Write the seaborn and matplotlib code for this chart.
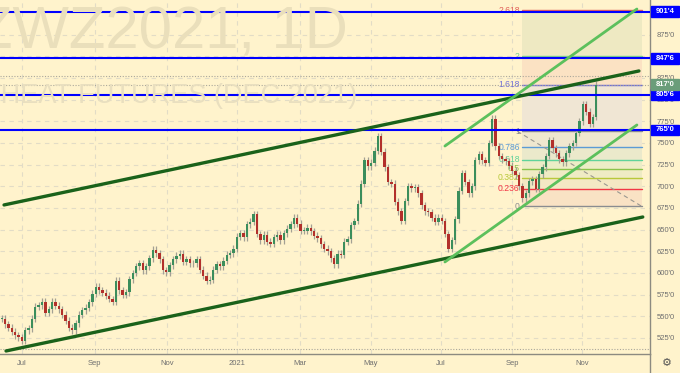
import matplotlib
matplotlib.use("Agg")
import numpy as np
import matplotlib.pyplot as plt
import matplotlib.transforms as mtransforms
from matplotlib.patches import Rectangle
import seaborn as sns

# ZWZ2021 daily closes, read every 2nd trading day (Jun 2020 .. Nov 2021)
closes = [
    547, 541, 537, 532, 528, 526, 522, 534, 536, 547,
    561, 563, 567, 554, 558, 567, 562, 558, 552, 545,
    537, 534, 542, 552, 557, 560, 566, 576, 584, 580,
    577, 574, 570, 567, 591, 580, 575, 578, 593, 600,
    608, 611, 603, 608, 617, 627, 623, 616, 603, 601,
    609, 616, 620, 622, 613, 616, 611, 611, 616, 604,
    597, 591, 592, 604, 610, 608, 614, 621, 623, 628,
    642, 646, 641, 656, 659, 668, 645, 638, 644, 636,
    634, 641, 644, 638, 646, 651, 656, 664, 657, 649,
    649, 652, 648, 643, 640, 633, 628, 625, 617, 610,
    622, 621, 636, 639, 655, 660, 680, 703, 730, 723,
    727, 741, 758, 740, 722, 705, 703, 682, 671, 660,
    683, 700, 698, 699, 692, 678, 671, 670, 664, 659,
    664, 660, 645, 628, 638, 662, 695, 715, 705, 692,
    700, 730, 737, 730, 727, 750, 778, 746, 735, 731,
    729, 724, 718, 713, 700, 686, 692, 706, 708, 697,
    714, 722, 735, 753, 744, 738, 731, 728, 738, 746,
    750, 762, 775, 795, 786, 772, 780, 817,
]
bar_step = 2

month_bars = [13.1, 56.5, 99.4, 141.1, 178.6, 220.8, 262.5, 304.8, 346.4]
month_labels = ["Jul", "Sep", "Nov", "2021", "Mar", "May", "Jul", "Sep", "Nov"]

price_ticks = list(range(525, 900, 25))
blue_levels = [901.5, 847.75, 805.75, 765.0]
blue_labels = ["901'4", "847'6", "805'6", "765'0"]
last_price = 817.0
last_label = "817'0"
dotted_levels = [827.3, 817.0, 512.0]

# trend lines: (bars, prices)
dark_upper = ([2.4, 380.4], [678.5, 833.1])
dark_lower = ([3.6, 382.7], [510.0, 664.6])
light_upper = ([264.9, 379.2], [746.5, 904.6])
light_lower = ([264.9, 379.2], [612.7, 770.8])

# fibonacci tool
fib_x0, fib_x1 = 310.7, 382.0
fib_zero, fib_one = 677.0, 763.5
fib_ratios = [0, 0.236, 0.382, 0.5, 0.618, 0.786, 1, 1.618, 2, 2.618]
fib_names = ["0", "0.236", "0.382", "0.5", "0.618", "0.786", "1", "1.618", "2", "2.618"]
fib_colors = ["#8a8c90", "#f23645", "#b8c83a", "#8bc34a", "#5fd39a", "#5b9bd5",
              "#8a8c90", "#6f6fd8", "#7ccf8f", "#e0605a"]
fib_fills = ["#f9e2c4", "#f4e8c4", "#efebc4", "#ecedc6", "#ebe9cb", "#efe7cf",
             "#f0e6d4", "#fbe2c3", "#eee9c2"]
fib_trend = ([308.0, 382.0], [763.5, 677.0])

BG = "#fff3cc"
GRID = "#e2dcc6"
UP = "#3b8e5c"
DOWN = "#b2302b"
WICK = "#a3a094"
AXIS_TXT = "#6f6f6f"

sns.set_style("white")
plt.rcParams["font.family"] = ["Liberation Sans", "DejaVu Sans"]

W, H = 680, 373
fig = plt.figure(figsize=(W / 100, H / 100), dpi=100, facecolor=BG)
ax = fig.add_axes([0, 19 / H, 650 / W, 354 / H], facecolor=BG)
ax.set_xlim(0, 387)
ax.set_ylim(506.5, 915)

# watermark
fig.text(-24 / W, 1 - 48 / H, "ZWZ2021, 1D", fontsize=43, color="#eadfbb",
         ha="left", va="baseline", zorder=0)
fig.text(-25 / W, 1 - 103 / H, "WHEAT FUTURES (DEC 2021)", fontsize=19.5,
         color="#e9dfbf", ha="left", va="baseline", zorder=0)

# grid
ax.set_yticks(price_ticks)
ax.set_yticklabels([f"{p}'0" for p in price_ticks])
ax.set_xticks(month_bars)
ax.set_xticklabels(month_labels)
ax.yaxis.tick_right()
ax.grid(True, color=GRID, linestyle=(0, (4, 4)), linewidth=0.8)
ax.set_axisbelow(True)
ax.tick_params(axis="y", length=0, pad=5, labelsize=5.5, labelcolor=AXIS_TXT)
ax.tick_params(axis="x", length=0, pad=4, labelsize=5.5, labelcolor=AXIS_TXT)
for side in ["top", "left"]:
    ax.spines[side].set_visible(False)
for side in ["right", "bottom"]:
    ax.spines[side].set_color("#8c8a80")
    ax.spines[side].set_linewidth(1.0)
fig.add_artist(plt.Line2D([650 / W, 650 / W], [0, 19 / H], color="#8c8a80", lw=1.0))

# fibonacci boxes
for i in range(len(fib_ratios) - 1):
    lo = fib_zero + fib_ratios[i] * (fib_one - fib_zero)
    hi = fib_zero + fib_ratios[i + 1] * (fib_one - fib_zero)
    ax.fill_between([fib_x0, fib_x1], lo, hi, color=fib_fills[i], lw=0, zorder=1)
for r, name, col in zip(fib_ratios, fib_names, fib_colors):
    p = fib_zero + r * (fib_one - fib_zero)
    ax.plot([fib_x0, fib_x1], [p, p], color=col, lw=1.0, zorder=1.5)
    ax.text(fib_x0 - 1.3, p, name, color=col, fontsize=6.2, ha="right",
            va="center", zorder=1.5)
ax.plot(fib_trend[0], fib_trend[1], color="#9a9890", lw=0.8,
        linestyle=(0, (4, 3)), zorder=1.6)

# candles
c = np.array(closes, dtype=float)
o = np.concatenate([[c[0]], c[:-1]])
x = np.arange(len(c)) * bar_step + 1
wick = 4.0
ax.vlines(x, np.minimum(o, c) - wick, np.maximum(o, c) + wick, color=WICK,
          lw=0.9, zorder=3)
body = np.where(np.abs(c - o) < 1, np.sign(c - o + 1e-9) * 1, c - o)
cols = np.where(c >= o, UP, DOWN)
ax.bar(x, body, bottom=o, width=1.4, color=cols, lw=0, zorder=3.2)

# horizontal levels
for p in dotted_levels:
    ax.axhline(p, color="#aaa79b", lw=0.8, linestyle=(0, (1, 1.5)), zorder=2)
for p in blue_levels:
    ax.axhline(p, color="#0000ff", lw=1.5, zorder=4)

# trend lines
for line, col, lw in [(dark_upper, "#1a621a", 2.4), (dark_lower, "#1a621a", 2.4),
                      (light_upper, "#5cc05c", 2.0), (light_lower, "#5cc05c", 2.0)]:
    sns.lineplot(x=line[0], y=line[1], ax=ax, color=col, linewidth=lw,
                 legend=False, zorder=5)

# price labels on the axis
trans = mtransforms.blended_transform_factory(ax.transAxes, ax.transData)
for p, lbl in zip(blue_levels, blue_labels):
    ax.add_patch(Rectangle((1.002, p - 6.3), 0.042, 12.6, transform=trans,
                           color="#0000ff", clip_on=False, zorder=6))
    ax.text(1.023, p, lbl, transform=trans, color="white", fontsize=5.5,
            fontweight="bold", ha="center", va="center", zorder=7, clip_on=False)
ax.add_patch(Rectangle((1.002, last_price - 6.3), 0.042, 12.6, transform=trans,
                       color="#6a9d7a", clip_on=False, zorder=6))
ax.text(1.023, last_price, last_label, transform=trans, color="white",
        fontsize=5.5, fontweight="bold", ha="center", va="center", zorder=7,
        clip_on=False)

fig.text(667 / W, 1 - 363 / H, "\u2699", fontsize=8, color="#555555",
         ha="center", va="center", family="DejaVu Sans")

ax.set_xlabel("")
ax.set_ylabel("")
fig.savefig("out.png", dpi=100, facecolor=BG)
